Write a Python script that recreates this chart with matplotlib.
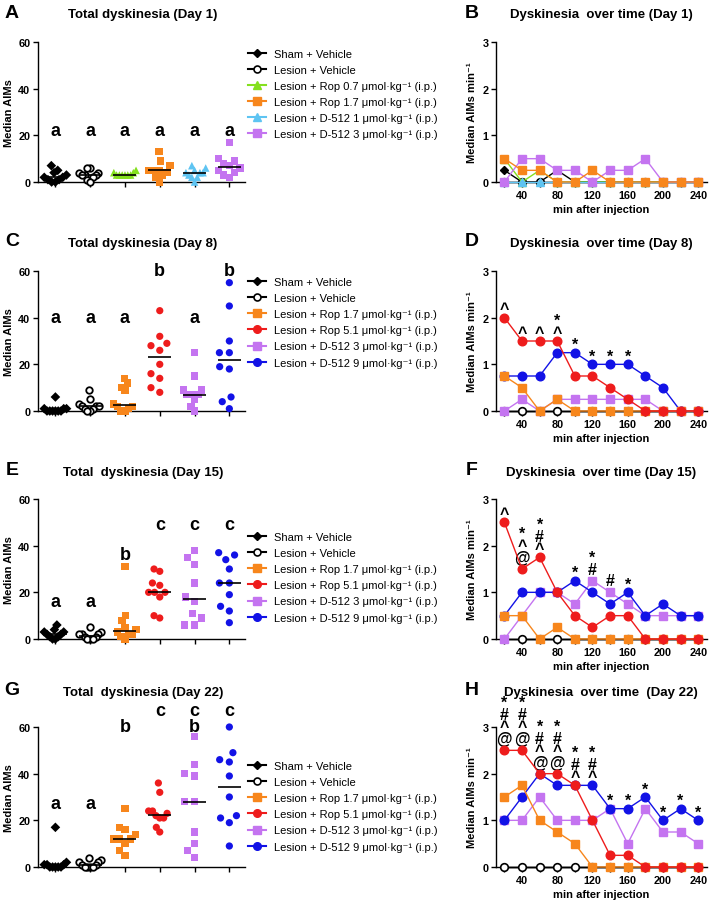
import numpy as np
import matplotlib
matplotlib.use('Agg')
import matplotlib.pyplot as plt
from matplotlib.lines import Line2D
from matplotlib.transforms import offset_copy

plt.rcParams['font.family'] = ['Liberation Sans', 'DejaVu Sans']
plt.rcParams['mathtext.default'] = 'regular'
plt.rcParams['axes.linewidth'] = 1.0

# ---------------- data ----------------
UNIT = ' μmol·kg⁻¹ (i.p.)'
day1_groups = ['Sham + Vehicle', 'Lesion + Vehicle', 'Lesion + Rop 0.7' + UNIT,
               'Lesion + Rop 1.7' + UNIT, 'Lesion + D-512 1' + UNIT, 'Lesion + D-512 3' + UNIT]
later_groups = ['Sham + Vehicle', 'Lesion + Vehicle', 'Lesion + Rop 1.7' + UNIT,
                'Lesion + Rop 5.1' + UNIT, 'Lesion + D-512 3' + UNIT, 'Lesion + D-512 9' + UNIT]

# total AIMs per animal (scatter panels)
aims_day1 = [[7, 5, 4, 3, 2, 2, 1, 1, 0, 0],
             [6, 6, 4, 4, 3, 3, 3, 2, 1, 0],
             [5, 4, 4, 3, 3, 3, 3, 3, 3],
             [13, 9, 7, 5, 5, 5, 4, 3, 2, 0],
             [7, 6, 5, 4, 4, 4, 3, 2, 2, 0],
             [17, 10, 9, 8, 7, 6, 5, 4, 3, 2]]
aims_day8 = [[6, 1, 1, 1, 0, 0, 0, 0, 0, 0],
             [9, 5, 3, 2, 2, 2, 1, 1, 0, 0],
             [14, 12, 10, 9, 3, 2, 2, 1, 0, 0],
             [43, 32, 29, 28, 26, 20, 16, 14, 10, 8],
             [25, 15, 9, 9, 7, 7, 7, 5, 2, 0],
             [55, 45, 30, 25, 25, 19, 18, 6, 4, 1]]
aims_day15 = [[6, 4, 3, 3, 2, 2, 1, 1, 0, 0],
              [5, 3, 2, 2, 2, 1, 1, 0, 0, 0],
              [31, 10, 8, 5, 4, 3, 2, 2, 1, 0],
              [30, 29, 24, 23, 20, 20, 20, 18, 10, 9],
              [38, 35, 32, 24, 18, 16, 11, 9, 6, 6],
              [37, 36, 34, 30, 24, 24, 19, 14, 12, 7]]
aims_day22 = [[17, 2, 1, 1, 1, 0, 0, 0, 0, 0],
              [4, 3, 2, 2, 1, 1, 0, 0, 0, 0],
              [25, 17, 16, 14, 12, 12, 12, 10, 7, 5],
              [36, 32, 24, 24, 23, 22, 21, 21, 17, 15],
              [56, 44, 40, 39, 28, 28, 15, 10, 7, 4],
              [60, 49, 46, 45, 39, 30, 22, 21, 19, 9]]

# significance letters: (group index, y value, letter)
letters_day1 = [(0, 22, 'a'), (1, 22, 'a'), (2, 22, 'a'), (3, 22, 'a'), (4, 22, 'a'), (5, 22, 'a')]
letters_day8 = [(0, 40, 'a'), (1, 40, 'a'), (2, 40, 'a'), (3, 60, 'b'), (4, 40, 'a'), (5, 60, 'b')]
letters_day15 = [(0, 16, 'a'), (1, 16, 'a'), (2, 36, 'b'), (3, 49, 'c'), (4, 49, 'c'), (5, 49, 'c')]
letters_day22 = [(0, 27, 'a'), (1, 27, 'a'), (2, 60, 'b'), (3, 67, 'c'), (4, 67, 'c'),
                 (4, 60, 'b'), (5, 67, 'c')]

# time courses (median AIMs per min)
time_min = [20, 40, 60, 80, 100, 120, 140, 160, 180, 200, 220, 240]
tc_day1 = [[0.25, 0, 0, 0.25, 0, 0, 0, 0, 0, 0, 0, 0],
           [0, 0, 0, 0, 0, 0, 0, 0, 0, 0, 0, 0],
           [0.5, 0, 0.25, 0, 0, 0, 0, 0, 0, 0, 0, 0],
           [0.5, 0.25, 0.25, 0, 0, 0.25, 0, 0, 0, 0, 0, 0],
           [0, 0, 0, 0, 0, 0, 0, 0, 0, 0, 0, 0],
           [0, 0.5, 0.5, 0.25, 0.25, 0, 0.25, 0.25, 0.5, 0, 0, 0]]
tc_day8 = [[0, 0, 0, 0, 0, 0, 0, 0, 0, 0, 0, 0],
           [0, 0, 0, 0, 0, 0, 0, 0, 0, 0, 0, 0],
           [0.75, 0.5, 0, 0.25, 0, 0, 0, 0, 0, 0, 0, 0],
           [2, 1.5, 1.5, 1.5, 0.75, 0.75, 0.5, 0.25, 0, 0, 0, 0],
           [0, 0.25, 0, 0.25, 0.25, 0.25, 0.25, 0.25, 0.25, 0, 0, 0],
           [0.75, 0.75, 0.75, 1.25, 1.25, 1, 1, 1, 0.75, 0.5, 0, 0]]
tc_day15 = [[0, 0, 0, 0, 0, 0, 0, 0, 0, 0, 0, 0],
            [0, 0, 0, 0, 0, 0, 0, 0, 0, 0, 0, 0],
            [0.5, 0.5, 0, 0.25, 0, 0, 0, 0, 0, 0, 0, 0],
            [2.5, 1.5, 1.75, 1, 0.5, 0.25, 0.5, 0.5, 0, 0, 0, 0],
            [0, 0.5, 1, 1, 0.75, 1.25, 1, 0.75, 0.5, 0.5, 0.5, 0.5],
            [0.5, 1, 1, 1, 1.25, 1, 0.75, 1, 0.5, 0.75, 0.5, 0.5]]
tc_day22 = [[0, 0, 0, 0, 0, 0, 0, 0, 0, 0, 0, 0],
            [0, 0, 0, 0, 0, 0, 0, 0, 0, 0, 0, 0],
            [1.5, 1.75, 1, 0.75, 0.5, 0, 0, 0, 0, 0, 0, 0],
            [2.5, 2.5, 2, 2, 1.75, 1, 0.25, 0.25, 0, 0, 0, 0],
            [1, 1, 1.5, 1, 1, 1, 1.25, 0.5, 1.25, 0.75, 0.75, 0.5],
            [1, 1.5, 2, 1.75, 1.75, 1.75, 1.25, 1.25, 1.5, 1, 1.25, 1]]

# significance symbols above time points (top to bottom)
sym_day8 = [(20, '^'), (40, '^'), (60, '^'), (80, '*^'), (100, '*'), (120, '*'), (140, '*'), (160, '*')]
sym_day15 = [(20, '^'), (40, '*^@'), (60, '*#^'), (100, '*'), (120, '*#'), (140, '#'), (160, '*')]
sym_day22 = [(20, '*#^@'), (40, '*#^@'), (60, '*#^@'), (80, '*#^@'), (100, '*#^'), (120, '*#^'),
             (140, '*'), (160, '*'), (180, '*'), (200, '*'), (220, '*'), (240, '*')]

# ---------------- styles ----------------
BLACK = '#000000'
GREEN = '#84E01E'
ORANGE = '#F7861C'
LBLUE = '#5EC4F2'
PURPLE = '#C474F0'
RED = '#EE1C1C'
BLUE = '#1212E6'
styles_day1 = [(BLACK, 'D', True), (BLACK, 'o', False), (GREEN, '^', True),
               (ORANGE, 's', True), (LBLUE, '^', True), (PURPLE, 's', True)]
styles_later = [(BLACK, 'D', True), (BLACK, 'o', False), (ORANGE, 's', True),
                (RED, 'o', True), (PURPLE, 's', True), (BLUE, 'o', True)]

W, H = 709, 903
fig = plt.figure(figsize=(W / 100, H / 100), dpi=100)


def fx(px):
    return px / W


def fy(py):
    return 1 - py / H


def add_axes(left, right, top, bottom):
    return fig.add_axes([fx(left), fy(bottom), (right - left) / W, (bottom - top) / H])


def swarm(vals, ypx, d=10.0, xpx=35.0, maxoff=0.32):
    vals = np.asarray(vals, float)
    order = np.argsort(vals, kind='stable')
    placed = []
    xs = np.zeros(len(vals))
    for i in order:
        y = vals[i] * ypx
        ivs = []
        for (px_, py_) in placed:
            dy = abs(py_ - y)
            if dy < d:
                dx = np.sqrt(d * d - dy * dy)
                ivs.append((px_ - dx, px_ + dx))
        cands = [0.0] + [a for a, b in ivs] + [b for a, b in ivs]
        cands.sort(key=lambda c: (round(abs(c), 6), c))
        for c in cands:
            if all(not (a + 1e-9 < c < b - 1e-9) for a, b in ivs):
                xs[i] = c
                break
        placed.append((xs[i], y))
    off = xs / xpx
    m = np.abs(off).max()
    if m > maxoff:
        off = off * maxoff / m
    return off


TICKFS = 7.8
LBLFS = 8


def style_axes(ax):
    for s in ['top', 'right']:
        ax.spines[s].set_visible(False)
    ax.tick_params(axis='both', which='both', direction='out', length=3.5, width=1.0,
                   labelsize=TICKFS, pad=2)
    for lab in ax.get_xticklabels() + ax.get_yticklabels():
        lab.set_fontweight('bold')


def scatter_panel(ax, data, styles, letters):
    ypx = 140.0 / 60.0
    for i, (vals, (col, mk, filled)) in enumerate(zip(data, styles)):
        off = swarm(vals, ypx)
        xs = i + off
        size = 27 if mk != '^' else 30
        if mk == 'D':
            size = 24
        if filled:
            ax.scatter(xs, vals, s=size, marker=mk, color=col, edgecolors='none',
                       clip_on=False, zorder=3)
        else:
            ax.scatter(xs, vals, s=22, marker=mk, facecolors='white', edgecolors=col,
                       linewidths=1.3, clip_on=False, zorder=3)
        med = np.median(vals)
        ax.plot([i - 0.33, i + 0.33], [med, med], color='black', lw=1.2, zorder=4,
                solid_capstyle='butt')
    for (g, yv, t) in letters:
        ax.text(g, yv, t, ha='center', va='center', fontsize=13, fontweight='bold',
                clip_on=False)
    ax.set_xlim(-0.5, 5.45)
    ax.set_ylim(0, 60)
    ax.set_xticks(range(6))
    ax.set_xticklabels([])
    ax.set_yticks([0, 20, 40, 60])
    ax.set_ylabel('Median AIMs', fontsize=LBLFS, fontweight='bold', labelpad=3)
    style_axes(ax)


SYMFS = 11.5
SYM_CTR = {'*': 0.56, '^': 0.52, '#': 0.36, '@': 0.36}


def time_panel(ax, data, styles, syms):
    order = [0, 1, 4, 5, 2, 3]
    if styles is styles_day1:
        order = [0, 1, 2, 4, 5, 3]
    t = np.asarray(time_min)
    for z, i in enumerate(order):
        col, mk, filled = styles[i]
        ms = 6.2 if mk in ('o', 's') else 5.5
        if mk == 'D':
            ms = 4.5
        if filled:
            ax.plot(t, data[i], color=col, lw=1.0, marker=mk, ms=ms, mfc=col, mec=col,
                    clip_on=False, zorder=3 + z)
        else:
            ax.plot(t, data[i], color=col, lw=1.0, marker=mk, ms=5.5, mfc='white', mec=col,
                    mew=1.2, clip_on=False, zorder=3 + z)
    arr = np.asarray(data)
    for (tm, s) in syms:
        k = time_min.index(tm)
        base = arr[:, k].max() + 0.27
        tr = offset_copy(ax.transData, fig=fig, x=0, y=-SYM_CTR[s[-1]] * SYMFS, units='points')
        ax.text(tm, base, '\n'.join(s), ha='center', va='baseline', fontsize=SYMFS,
                fontweight='bold', linespacing=0.76,
                multialignment='center', transform=tr, clip_on=False)
    ax.set_xlim(10.5, 250)
    ax.set_ylim(0, 3)
    ax.set_xticks([40, 80, 120, 160, 200, 240])
    ax.set_xticks([20, 60, 100, 140, 180, 220], minor=True)
    ax.set_yticks([0, 1, 2, 3])
    ax.set_ylabel('Median AIMs min⁻¹', fontsize=LBLFS, fontweight='bold', labelpad=4)
    ax.set_xlabel('min after injection', fontsize=LBLFS, fontweight='bold', labelpad=3)
    style_axes(ax)


def make_legend(labels, styles, x0, y0):
    handles = []
    for (col, mk, filled) in styles:
        if filled:
            h = Line2D([], [], color=col, lw=1.5, marker=mk, ms=5.5 if mk != 'D' else 4.5,
                       mfc=col, mec=col)
        else:
            h = Line2D([], [], color=col, lw=1.5, marker=mk, ms=5, mfc='white', mec=col, mew=1.2)
        handles.append(h)
    fig.legend(handles, labels, loc='upper left', bbox_to_anchor=(fx(x0), fy(y0)),
               frameon=False, fontsize=8, handlelength=1.6, handletextpad=0.75,
               labelspacing=0.55, borderpad=0, borderaxespad=0)


tops = [43, 272, 500, 728]
scat_data = [aims_day1, aims_day8, aims_day15, aims_day22]
tc_data = [tc_day1, tc_day8, tc_day15, tc_day22]
let_data = [letters_day1, letters_day8, letters_day15, letters_day22]
sym_data = [[], sym_day8, sym_day15, sym_day22]
legend_tops = [49.5, 278, 533, 762]
titles_l = ['Total dyskinesia (Day 1)', 'Total dyskinesia (Day 8)',
            'Total  dyskinesia (Day 15)', 'Total  dyskinesia (Day 22)']
titles_r = ['Dyskinesia  over time (Day 1)', 'Dyskinesia  over time (Day 8)',
            'Dyskinesia  over time (Day 15)', 'Dyskinesia  over time  (Day 22)']
title_y = [15, 244, 473, 693]
letters_lr = [('A', 'B'), ('C', 'D'), ('E', 'F'), ('G', 'H')]

for r in range(4):
    top = tops[r]
    st = styles_day1 if r == 0 else styles_later
    labs = day1_groups if r == 0 else later_groups
    axl = add_axes(38, 245, top, top + 140)
    scatter_panel(axl, scat_data[r], st, let_data[r])
    axr = add_axes(496, 707, top, top + 140)
    time_panel(axr, tc_data[r], st, sym_data[r])
    make_legend(labs, st, 248, legend_tops[r])
    fig.text(fx(143), fy(title_y[r]), titles_l[r], ha='center', va='center',
             fontsize=9.5, fontweight='bold')
    fig.text(fx(601), fy(title_y[r]), titles_r[r], ha='center', va='center',
             fontsize=9.5, fontweight='bold')
    fig.text(fx(12), fy(title_y[r] - 2), letters_lr[r][0], ha='center', va='center',
             fontsize=14, fontweight='bold')
    fig.text(fx(472), fy(title_y[r] - 2), letters_lr[r][1], ha='center', va='center',
             fontsize=14, fontweight='bold')

fig.savefig('out.png', dpi=100)
